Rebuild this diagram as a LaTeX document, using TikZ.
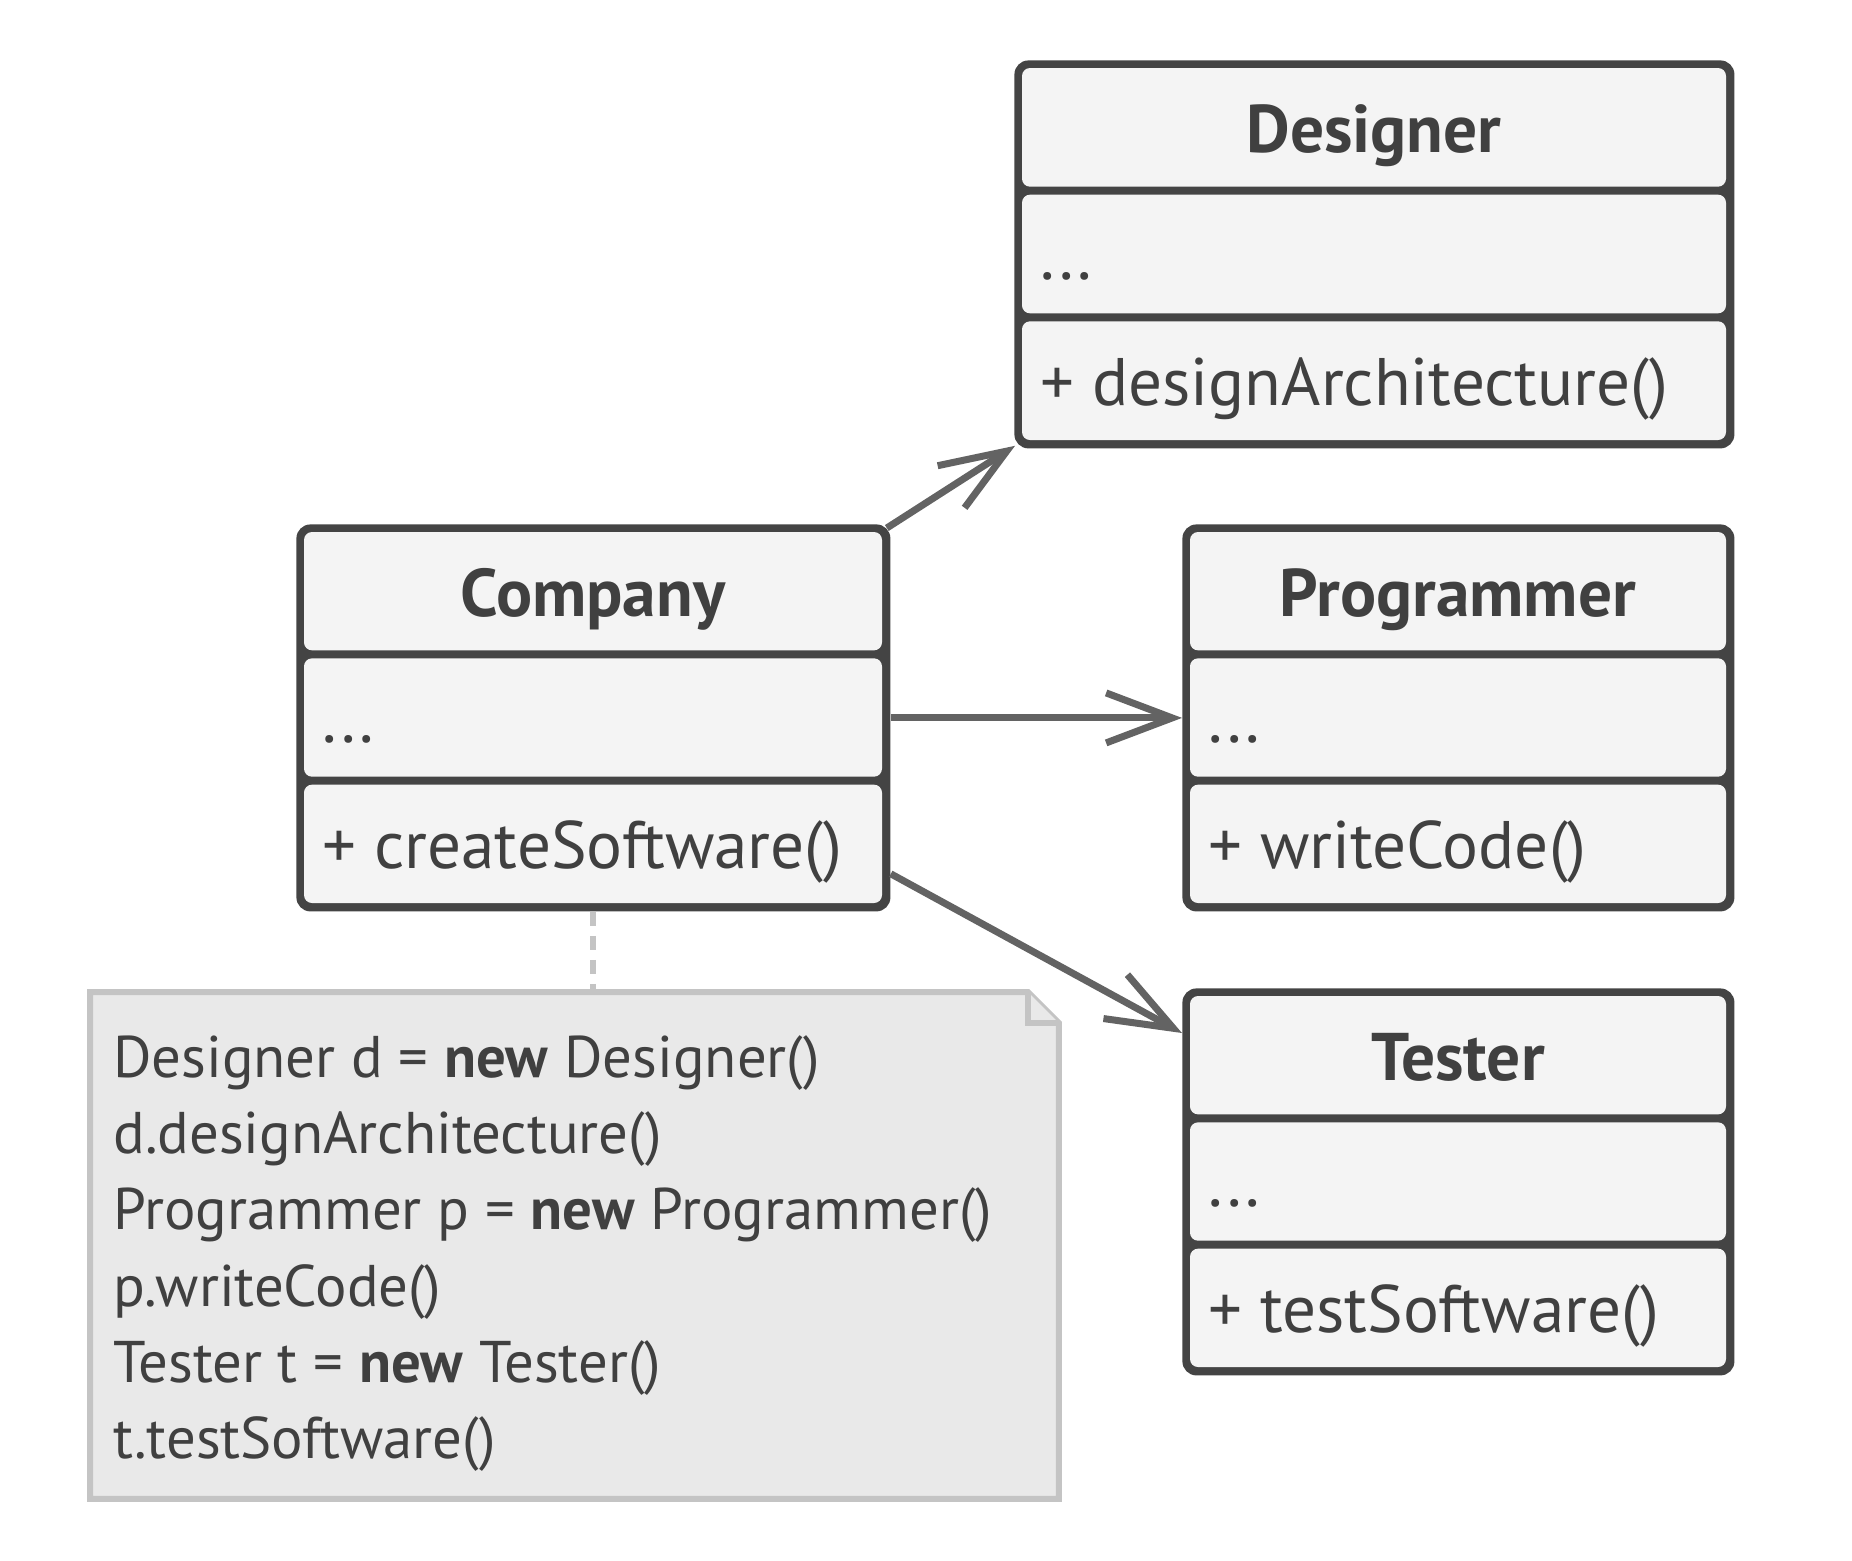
\documentclass[tikz,border=0pt]{standalone}
\usepackage{fontspec}
\setmainfont{PT Sans}
\usetikzlibrary{arrows.meta,calc}
\definecolor{umlline}{HTML}{444444}
\definecolor{umlfill}{HTML}{F4F4F4}
\definecolor{umltext}{HTML}{404040}
\definecolor{arrowgray}{HTML}{636363}
\definecolor{notefill}{HTML}{E9E9E9}
\definecolor{noteline}{HTML}{C4C4C4}
\tikzset{
  classbox/.style={inner sep=0pt, fill=umlline, rounded corners=7pt, anchor=north west},
  compart/.style={fill=umlfill, rounded corners=4pt},
  titletext/.style={inner sep=0pt, anchor=base, text=umltext, font=\fontsize{33.7}{40}\selectfont\bfseries},
  membertext/.style={inner sep=0pt, anchor=base west, text=umltext, font=\fontsize{33.6}{40}\selectfont},
  notetext/.style={inner sep=0pt, anchor=base west, text=umltext, font=\fontsize{29.4}{36}\selectfont},
  assoc/.style={draw=arrowgray, line width=3.5pt, -{Straight Barb[length=33pt, width=25pt]}},
  noteshape/.style={draw=noteline, line width=3pt, fill=notefill, line join=miter},
  notelink/.style={draw=noteline, line width=3pt, dash pattern=on 7pt off 5pt},
}
% name, x1, y1, x2, y2, title, attribute, operation
\newcommand\umlclass[8]{%
  \pgfmathsetmacro\hc{(#5-#3-32)/3}%
  \node[classbox, minimum width={(#4-#2)*0.5pt}, minimum height={(#5-#3)*0.5pt}] (#1) at (#2,#3) {};
  \fill[compart] ({#2+8},{#3+8}) rectangle ({#4-8},{#3+8+\hc});
  \fill[compart] ({#2+8},{#3+16+\hc}) rectangle ({#4-8},{#3+16+2*\hc});
  \fill[compart] ({#2+8},{#3+24+2*\hc}) rectangle ({#4-8},{#3+24+3*\hc});
  \node[titletext] (#1-title) at ({(#2+#4)/2},{#3+8+\hc/2+25}) {#6};
  \node[membertext] (#1-attr) at ({#2+26},{#3+16+1.5*\hc+25}) {#7};
  \node[membertext] (#1-op) at ({#2+26},{#3+24+2.5*\hc+25}) {#8};
}
\begin{document}
\begin{tikzpicture}[x=0.5pt, y=-0.5pt]
\useasboundingbox (0,0) rectangle (1852,1560);
\umlclass{designer}{1014}{60}{1734}{448}{Designer}{...}{+ designArchitecture()}
\umlclass{company}{296}{524}{890}{911}{Company}{...}{+ createSoftware()}
\umlclass{programmer}{1182}{524}{1734}{911}{Programmer}{...}{+ writeCode()}
\umlclass{tester}{1182}{988}{1734}{1375}{Tester}{...}{+ testSoftware()}

% note
\node[inner sep=0pt, minimum width=484pt, minimum height=253pt, anchor=north west] (note) at (90,992) {};
\draw[noteshape] (note.north west) -- ([xshift=-15.5pt]note.north east) -- ([yshift=-15.5pt]note.north east) -- (note.south east) -- (note.south west) -- cycle;
\draw[noteshape] ([xshift=-15.5pt]note.north east) -- ([xshift=-15.5pt,yshift=-15.5pt]note.north east) -- ([yshift=-15.5pt]note.north east);
\node[notetext] (n1) at (113,1077) {Designer d = \textbf{new} Designer()};
\node[notetext] (n2) at (113,1153) {d.designArchitecture()};
\node[notetext] (n3) at (113,1229) {Programmer p = \textbf{new} Programmer()};
\node[notetext] (n4) at (113,1306) {p.writeCode()};
\node[notetext] (n5) at (113,1382) {Tester t = \textbf{new} Tester()};
\node[notetext] (n6) at (113,1458) {t.testSoftware()};

% connectors
\draw[notelink] (company.south) -- (company.south |- note.north);
\draw[assoc] ([xshift=-2pt,yshift=-2pt]company.north east) -- ([xshift=0.5pt,yshift=1.5pt]designer.south west);
\draw[assoc] (company.east) -- (programmer.west);
\draw[assoc] ([yshift=19pt]company.south east) -- ([yshift=-22.5pt]tester.north west);
\end{tikzpicture}
\end{document}
